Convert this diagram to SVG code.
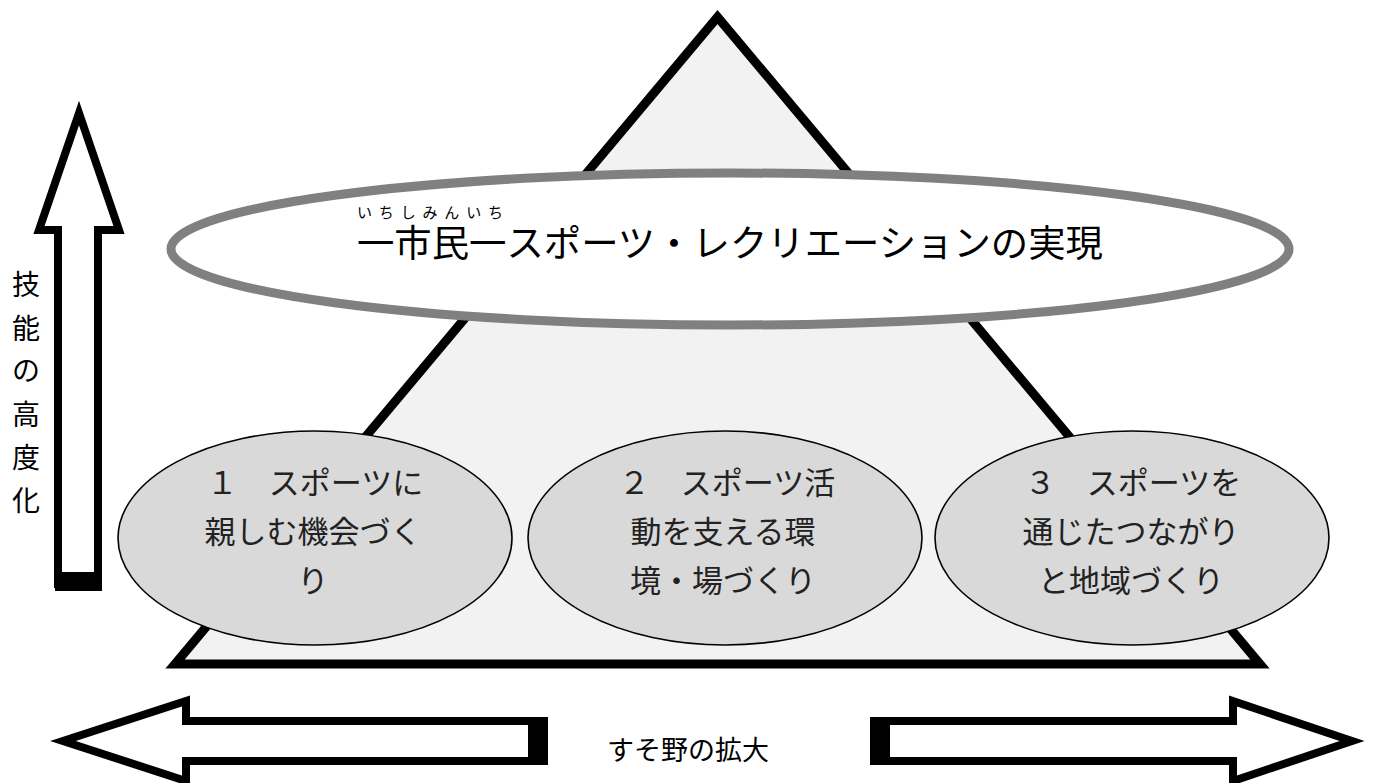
<svg xmlns="http://www.w3.org/2000/svg" width="1375" height="783" viewBox="0 0 1375 783">
<style>
  .jp { font-family: "Noto Sans CJK JP", "Noto Sans", sans-serif; }
  .arrow { fill: #ffffff; stroke: #000000; stroke-width: 8; stroke-linejoin: miter; stroke-miterlimit: 6; }
  .sub { fill: #d9d9d9; stroke: #000000; stroke-width: 1.6; }
  .subtxt { font-family: "Noto Sans CJK JP", "Noto Sans", sans-serif; font-size: 31px; fill: #222222; text-anchor: middle; }
  .side { font-family: "Noto Sans CJK JP", "Noto Sans", sans-serif; font-size: 28px; fill: #000000; text-anchor: middle; }
</style>
<rect width="1375" height="783" fill="#ffffff"/>

<g id="pyramid">
  <polygon points="717.5,17 1260,664 175,664" fill="#f2f2f2" stroke="#000000" stroke-width="9" stroke-linejoin="miter" stroke-miterlimit="6"/>
</g>

<g id="goal">
  <ellipse cx="730" cy="249" rx="559" ry="76" fill="#ffffff" stroke="#808080" stroke-width="9"/>
  <text class="jp" x="357" y="218" font-size="15" fill="#000000" textLength="146" lengthAdjust="spacing">いちしみんいち</text>
  <text class="jp" x="357" y="257" font-size="37" fill="#000000" textLength="746" lengthAdjust="spacingAndGlyphs">一市民一スポーツ・レクリエーションの実現</text>
</g>

<g id="node1">
  <ellipse class="sub" cx="315" cy="538" rx="197" ry="107"/>
  <text class="subtxt" x="315" y="494">１　スポーツに</text>
  <text class="subtxt" x="313" y="543">親しむ機会づく</text>
  <text class="subtxt" x="313" y="592">り</text>
</g>

<g id="node2">
  <ellipse class="sub" cx="725" cy="538" rx="197" ry="107"/>
  <text class="subtxt" x="727" y="494">２　スポーツ活</text>
  <text class="subtxt" x="723" y="543">動を支える環</text>
  <text class="subtxt" x="723" y="592">境・場づくり</text>
</g>

<g id="node3">
  <ellipse class="sub" cx="1132" cy="538" rx="197" ry="107"/>
  <text class="subtxt" x="1133" y="494">３　スポーツを</text>
  <text class="subtxt" x="1131" y="543">通じたつながり</text>
  <text class="subtxt" x="1131" y="592">と地域づくり</text>
</g>

<g id="connectors">
  <g id="arrow-up">
    <polygon class="arrow" points="79,113 119,230 98,230 98,584 58,584 58,230 39,230" stroke-width="7"/>
    <rect x="55" y="572" width="47" height="19" fill="#000000"/>
  </g>
  <g id="arrow-left">
    <polygon class="arrow" points="540,721 186,721 186,701 63,741 186,781 186,761 540,761"/>
    <rect x="528" y="717" width="20" height="48" fill="#000000"/>
  </g>
  <g id="arrow-right">
    <polygon class="arrow" points="880,721 1233,721 1233,701 1352,741 1233,781 1233,761 880,761"/>
    <rect x="870" y="717" width="20" height="48" fill="#000000"/>
  </g>
</g>

<g id="label-vertical">
  <text class="side" x="26" y="295">技</text>
  <text class="side" x="26" y="339">能</text>
  <text class="side" x="26" y="381">の</text>
  <text class="side" x="26" y="425">高</text>
  <text class="side" x="26" y="468">度</text>
  <text class="side" x="26" y="511">化</text>
</g>

<g id="label-horizontal">
  <text class="jp" x="688" y="760" font-size="27" fill="#000000" text-anchor="middle">すそ野の拡大</text>
</g>
</svg>
